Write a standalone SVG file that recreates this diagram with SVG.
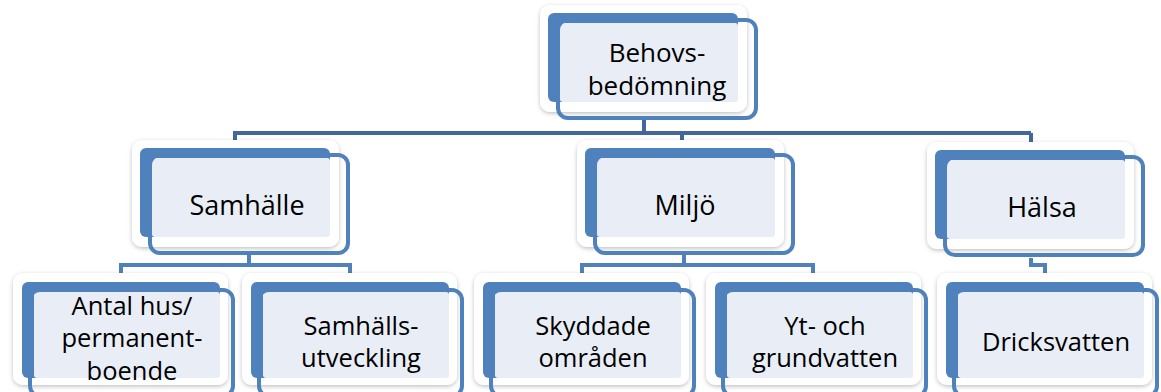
<svg xmlns="http://www.w3.org/2000/svg" width="1161" height="392" viewBox="0 0 1161 392">
<defs>
<filter id="sh" x="-10%" y="-10%" width="120%" height="125%">
<feDropShadow dx="0" dy="1.5" stdDeviation="2" flood-color="#000" flood-opacity="0.25"/>
</filter>
</defs>
<style>
.bg{fill:#fff;filter:url(#sh)}
.bl{fill:#4F81BD}
.lt{fill:#E9EEF6}
.ol{fill:none;stroke:#4F81BD;stroke-width:4}
.c1{fill:none;stroke:#41679B;stroke-width:4}
.c2{fill:none;stroke:#4F81BD;stroke-width:4}
text{font-family:"Open Sans","Noto Sans","Liberation Sans",sans-serif;fill:#000;text-anchor:middle}
.t1{font-size:26px}
.t2{font-size:27px}
.t3{font-size:25.5px}
</style>
<rect width="1161" height="392" fill="#fff"/>
<g id="connectors">
<path class="c1" d="M644,118 V133 M235,133 H1031 M235,131 V143 M682,133 V142 M1031,133 V143"/>
<path class="c2" d="M249,255 V265 M121,265 H350 M121,263 V274 M350,263 V274"/>
<path class="c2" d="M684,255 V265 M582,265 H813 M582,263 V274 M813,263 V274"/>
<path class="c2" d="M1031,258 V265 H1045 V274"/>
</g>
<g id="n-behov">
<rect class="bg" x="540" y="5" width="207" height="107" rx="10"/>
<rect class="bl" x="548" y="13" width="190" height="89" rx="6"/>
<rect class="lt" x="560" y="23" width="178" height="79" rx="3"/>
<rect class="ol" x="558" y="20" width="198" height="98" rx="10"/>
<text class="t1" x="657" y="62">Behovs-</text>
<text class="t1" x="657" y="95">bedömning</text>
</g>
<g id="n-samhalle">
<rect class="bg" x="132" y="140" width="207" height="107" rx="10"/>
<rect class="bl" x="140" y="148" width="190" height="89" rx="6"/>
<rect class="lt" x="152" y="158" width="178" height="79" rx="3"/>
<rect class="ol" x="150" y="155" width="198" height="98" rx="10"/>
<text class="t2" x="247" y="215">Samhälle</text>
</g>
<g id="n-miljo">
<rect class="bg" x="577" y="140" width="207" height="107" rx="10"/>
<rect class="bl" x="585" y="148" width="190" height="89" rx="6"/>
<rect class="lt" x="597" y="158" width="178" height="79" rx="3"/>
<rect class="ol" x="595" y="155" width="198" height="98" rx="10"/>
<text class="t2" x="685" y="215">Miljö</text>
</g>
<g id="n-halsa">
<rect class="bg" x="927" y="142" width="207" height="107" rx="10"/>
<rect class="bl" x="935" y="150" width="190" height="89" rx="6"/>
<rect class="lt" x="947" y="160" width="178" height="79" rx="3"/>
<rect class="ol" x="945" y="157" width="198" height="98" rx="10"/>
<text class="t2" x="1042" y="217">Hälsa</text>
</g>
<g id="n-antal">
<rect class="bg" x="13" y="273" width="215" height="112" rx="10"/>
<rect class="bl" x="22" y="282" width="198" height="96" rx="6"/>
<rect class="lt" x="34" y="292" width="186" height="86" rx="3"/>
<rect class="ol" x="30" y="290" width="203" height="106" rx="10"/>
<text class="t3" x="132" y="315">Antal hus/</text>
<text class="t3" x="132" y="347">permanent-</text>
<text class="t3" x="132" y="380">boende</text>
</g>
<g id="n-samhallsutv">
<rect class="bg" x="242" y="273" width="215" height="112" rx="10"/>
<rect class="bl" x="251" y="282" width="198" height="96" rx="6"/>
<rect class="lt" x="263" y="292" width="186" height="86" rx="3"/>
<rect class="ol" x="259" y="290" width="203" height="106" rx="10"/>
<text class="t3" x="361" y="335">Samhälls-</text>
<text class="t3" x="361" y="367">utveckling</text>
</g>
<g id="n-skyddade">
<rect class="bg" x="474" y="273" width="215" height="112" rx="10"/>
<rect class="bl" x="483" y="282" width="198" height="96" rx="6"/>
<rect class="lt" x="495" y="292" width="186" height="86" rx="3"/>
<rect class="ol" x="491" y="290" width="203" height="106" rx="10"/>
<text class="t3" x="593" y="335">Skyddade</text>
<text class="t3" x="593" y="367">områden</text>
</g>
<g id="n-ytgrund">
<rect class="bg" x="706" y="273" width="215" height="112" rx="10"/>
<rect class="bl" x="715" y="282" width="198" height="96" rx="6"/>
<rect class="lt" x="727" y="292" width="186" height="86" rx="3"/>
<rect class="ol" x="723" y="290" width="203" height="106" rx="10"/>
<text class="t3" x="825" y="335">Yt- och</text>
<text class="t3" x="825" y="367">grundvatten</text>
</g>
<g id="n-dricks">
<rect class="bg" x="937" y="273" width="215" height="112" rx="10"/>
<rect class="bl" x="946" y="282" width="198" height="96" rx="6"/>
<rect class="lt" x="958" y="292" width="186" height="86" rx="3"/>
<rect class="ol" x="954" y="290" width="203" height="106" rx="10"/>
<text class="t3" x="1056" y="351">Dricksvatten</text>
</g>
</svg>
